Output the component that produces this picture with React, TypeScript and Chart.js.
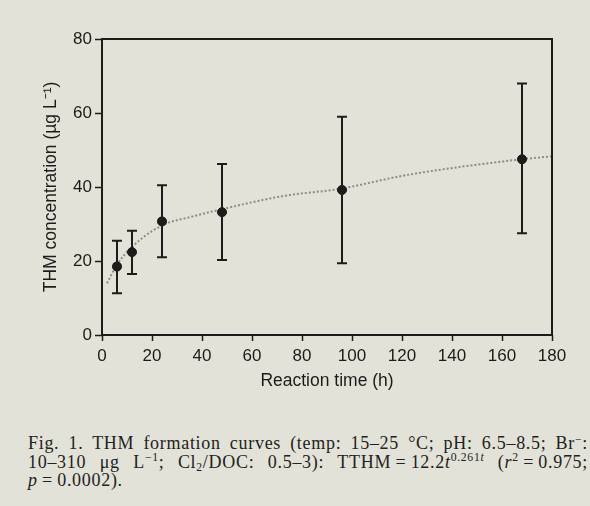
import React, { useEffect, useRef } from "react";
import { Chart, registerables } from "chart.js";

Chart.register(...registerables);

// Reaction time (h) of measured points
const times = [6, 12, 24, 48, 96, 168];
// Mean THM concentration (µg/L)
const means = [18.5, 22.4, 30.7, 33.2, 39.2, 47.5];
const upper = [25.5, 28.2, 40.5, 46.2, 59, 68];
const lower = [11.3, 16.5, 21, 20.3, 19.4, 27.5];

// Fitted curve
const fitTimes = [2, 6, 12, 24, 36, 48, 72, 96, 120, 144, 168, 180];
const fitValues = [14, 19, 23.8, 29.6, 32, 34, 37.5, 39.6, 43, 45.5, 47.5, 48.3];

const xTicks = [0, 20, 40, 60, 80, 100, 120, 140, 160, 180];
const yTicks = [0, 20, 40, 60, 80];

const INK = "#1c1c1a";
const BG = "#e2e2d9";
const SANS = "'Liberation Sans', Arial, sans-serif";
const TS = "\u2009"; // thin space (not stretched by justification)

const errorBarPlugin = {
  id: "errorBars",
  afterDatasetsDraw(chart: any) {
    const { ctx, scales } = chart;
    const xs = scales.x;
    const ys = scales.y;
    ctx.save();
    ctx.strokeStyle = INK;
    ctx.lineWidth = 2;
    for (let i = 0; i < times.length; i++) {
      const x = xs.getPixelForValue(times[i]);
      const yt = ys.getPixelForValue(upper[i]);
      const yb = ys.getPixelForValue(lower[i]);
      ctx.beginPath();
      ctx.moveTo(x, yt);
      ctx.lineTo(x, yb);
      ctx.moveTo(x - 5, yt);
      ctx.lineTo(x + 5, yt);
      ctx.moveTo(x - 5, yb);
      ctx.lineTo(x + 5, yb);
      ctx.stroke();
    }
    for (let i = 0; i < times.length; i++) {
      const x = xs.getPixelForValue(times[i]);
      const y = ys.getPixelForValue(means[i]);
      ctx.beginPath();
      ctx.fillStyle = INK;
      ctx.arc(x, y, 4.5, 0, Math.PI * 2);
      ctx.fill();
    }
    ctx.restore();
  },
};

const framePlugin = {
  id: "frame",
  afterDraw(chart: any) {
    const { ctx, chartArea } = chart;
    ctx.save();
    ctx.strokeStyle = INK;
    ctx.lineWidth = 2;
    ctx.strokeRect(
      chartArea.left,
      chartArea.top,
      chartArea.right - chartArea.left,
      chartArea.bottom - chartArea.top
    );
    ctx.restore();
  },
};

export default function App() {
  const ref = useRef<HTMLCanvasElement | null>(null);

  useEffect(() => {
    if (!ref.current) return;
    const chart = new Chart(ref.current, {
      type: "scatter",
      data: {
        datasets: [
          {
            label: "THM",
            data: times.map((t, i) => ({ x: t, y: means[i] })),
            pointRadius: 4.5,
            pointBackgroundColor: INK,
            pointBorderColor: INK,
            showLine: false,
          },
          {
            label: "Fit",
            data: fitTimes.map((t, i) => ({ x: t, y: fitValues[i] })),
            showLine: true,
            pointRadius: 0,
            borderColor: "rgba(105,105,95,0.7)",
            borderWidth: 2,
            borderDash: [2, 2],
            cubicInterpolationMode: "monotone",
            fill: false,
          },
        ],
      },
      options: {
        responsive: false,
        animation: false,
        devicePixelRatio: 1,
        layout: { padding: { top: 39, right: 38, left: 0, bottom: 0 } },
        plugins: {
          legend: { display: false },
          tooltip: { enabled: false },
        },
        scales: {
          x: {
            type: "linear",
            min: 0,
            max: 180,
            afterBuildTicks: (s: any) => {
              s.ticks = xTicks.map((v) => ({ value: v }));
            },
            afterFit: (s: any) => {
              s.height = 65;
            },
            grid: {
              display: true,
              drawOnChartArea: false,
              tickLength: 6,
              tickColor: INK,
              tickWidth: 1.5,
            },
            border: { display: false },
            ticks: {
              color: INK,
              padding: 5,
              maxRotation: 0,
              font: { family: SANS, size: 17 },
            },
            title: {
              display: true,
              text: "Reaction time (h)",
              color: INK,
              padding: { top: 0, bottom: 8 },
              font: { family: SANS, size: 17.5 },
            },
          },
          y: {
            type: "linear",
            min: 0,
            max: 80,
            afterBuildTicks: (s: any) => {
              s.ticks = yTicks.map((v) => ({ value: v }));
            },
            afterFit: (s: any) => {
              s.width = 102;
            },
            grid: {
              display: true,
              drawOnChartArea: false,
              tickLength: 7,
              tickColor: INK,
              tickWidth: 1.5,
            },
            border: { display: false },
            ticks: {
              color: INK,
              padding: 3,
              font: { family: SANS, size: 17 },
            },
            title: {
              display: true,
              text: "THM concentration (\u00b5g L\u207b\u00b9)",
              color: INK,
              padding: { top: 41, bottom: 0 },
              font: { family: SANS, size: 17.5 },
            },
          },
        },
      },
      plugins: [errorBarPlugin, framePlugin],
    } as any);
    return () => chart.destroy();
  }, []);

  const sup: React.CSSProperties = {
    fontSize: "0.65em",
    position: "relative",
    top: "-0.55em",
    lineHeight: 0,
  };
  const sub: React.CSSProperties = {
    fontSize: "0.65em",
    position: "relative",
    top: "0.3em",
    lineHeight: 0,
  };
  const line: React.CSSProperties = {
    textAlign: "justify",
    textAlignLast: "justify" as any,
    height: 18.5,
  };

  return (
    <div
      style={{
        position: "absolute",
        left: 0,
        top: 0,
        width: 590,
        height: 506,
        overflow: "hidden",
        background: BG,
      }}
    >
      <canvas
        ref={ref}
        width={590}
        height={400}
        style={{ display: "block", width: 590, height: 400 }}
      />
      <div
        style={{
          position: "absolute",
          left: 28,
          top: 434,
          width: 560,
          fontFamily: "'Liberation Serif', 'Times New Roman', serif",
          fontSize: 18,
          letterSpacing: "0.7px",
          lineHeight: "18.5px",
          color: "#222220",
        }}
      >
        <div style={line}>
          Fig. 1. THM formation curves (temp: 15–25 °C; pH: 6.5–8.5; Br<span style={sup}>−</span>:
        </div>
        <div style={line}>
          10–310 μg L<span style={sup}>−1</span>; Cl<span style={sub}>2</span>/DOC: 0.5–3): TTHM{TS}={TS}12.2
          <i>t</i>
          <span style={sup}>
            0.261<i>t</i>
          </span>{" "}
          (<i>r</i>
          <span style={sup}>2</span>{TS}={TS}0.975;
        </div>
        <div style={{ height: 18.5 }}>
          <i>p</i>{TS}={TS}0.0002).
        </div>
      </div>
    </div>
  );
}
